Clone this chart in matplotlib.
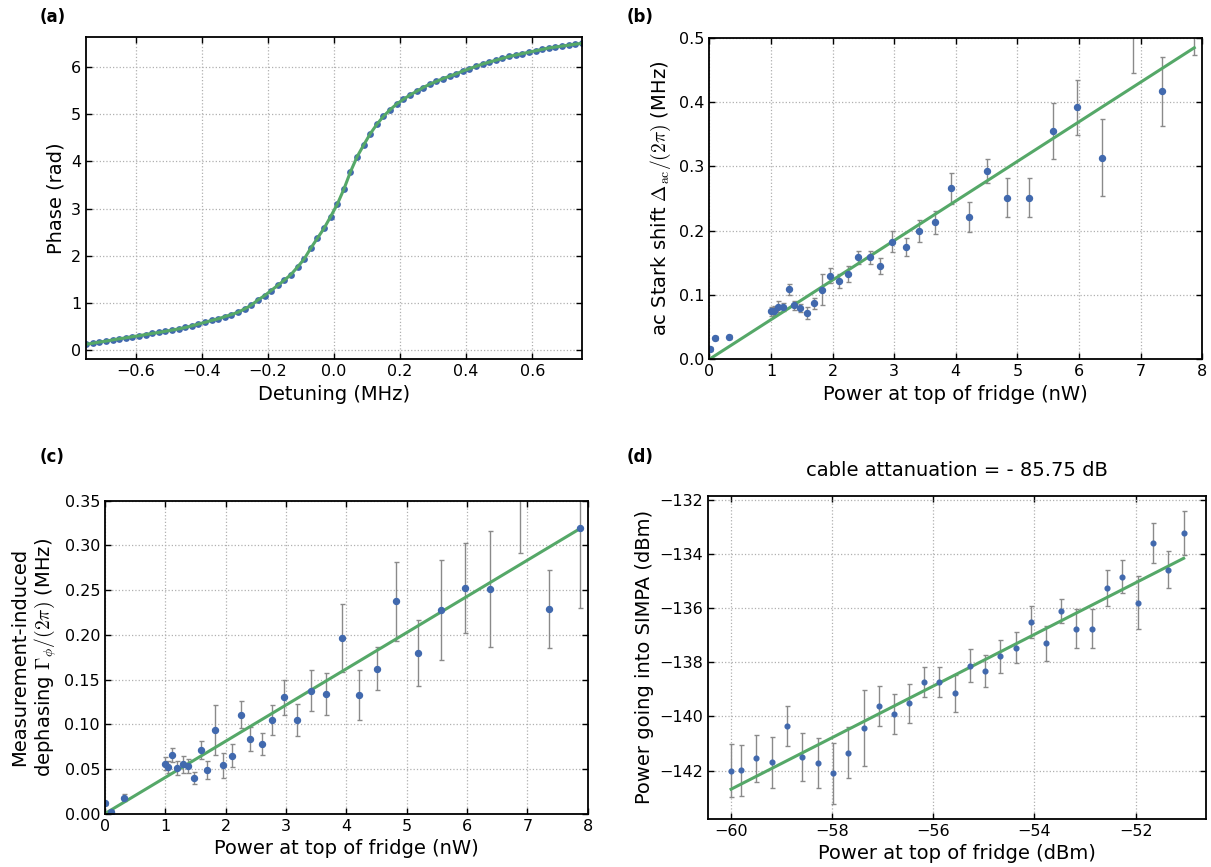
import numpy as np
import matplotlib
matplotlib.use("Agg")
import matplotlib.pyplot as plt

plt.rcParams.update({
    'font.family': 'DejaVu Sans',
    'mathtext.fontset': 'cm',
    'xtick.direction': 'in',
    'ytick.direction': 'in',
    'xtick.top': True,
    'ytick.right': True,
})

BLUE = '#4169AE'
GREEN = '#55A868'

# ---- (a) phase response ----
detuning = [-0.75, -0.73, -0.71, -0.69, -0.67, -0.65, -0.63, -0.61, -0.59, -0.57,
            -0.55, -0.53, -0.51, -0.49, -0.47, -0.45, -0.43, -0.41, -0.39, -0.37,
            -0.35, -0.33, -0.31, -0.29, -0.27, -0.25, -0.23, -0.21, -0.19, -0.17,
            -0.15, -0.13, -0.11, -0.09, -0.07, -0.05, -0.03, -0.01, 0.01, 0.03,
            0.05, 0.07, 0.09, 0.11, 0.13, 0.15, 0.17, 0.19, 0.21, 0.23,
            0.25, 0.27, 0.29, 0.31, 0.33, 0.35, 0.37, 0.39, 0.41, 0.43,
            0.45, 0.47, 0.49, 0.51, 0.53, 0.55, 0.57, 0.59, 0.61, 0.63,
            0.65, 0.67, 0.69, 0.71, 0.73, 0.75]
phase = [0.12, 0.14, 0.165, 0.185, 0.21, 0.235, 0.255, 0.28, 0.30, 0.325,
         0.35, 0.37, 0.395, 0.42, 0.445, 0.475, 0.51, 0.55, 0.585, 0.625,
         0.66, 0.705, 0.75, 0.80, 0.87, 0.95, 1.06, 1.15, 1.26, 1.37,
         1.48, 1.60, 1.76, 1.93, 2.16, 2.37, 2.58, 2.83, 3.09, 3.41,
         3.78, 4.10, 4.35, 4.59, 4.79, 4.96, 5.10, 5.22, 5.32, 5.41,
         5.49, 5.57, 5.64, 5.70, 5.76, 5.81, 5.86, 5.92, 5.97, 6.02,
         6.07, 6.11, 6.15, 6.19, 6.23, 6.26, 6.29, 6.32, 6.35, 6.38,
         6.41, 6.43, 6.45, 6.47, 6.49, 6.51]

# ---- (b), (c) vs power in nW ----
power_nw = [0.01, 0.10, 0.32, 1.00, 1.05, 1.12, 1.20, 1.29, 1.38, 1.48,
            1.59, 1.70, 1.83, 1.96, 2.10, 2.25, 2.41, 2.60, 2.77, 2.97,
            3.19, 3.41, 3.66, 3.93, 4.21, 4.51, 4.83, 5.19, 5.57, 5.96,
            6.38, 6.87, 7.35, 7.87]
stark = [0.0156, 0.033, 0.035, 0.0745, 0.0755, 0.082, 0.081, 0.109, 0.084, 0.080,
         0.072, 0.087, 0.108, 0.130, 0.122, 0.133, 0.159, 0.159, 0.145, 0.183,
         0.175, 0.199, 0.2135, 0.266, 0.221, 0.293, 0.2515, 0.2515, 0.355, 0.392,
         0.314, 0.52, 0.417, 0.53]
stark_err = [0.003, 0.003, 0.003, 0.007, 0.007, 0.008, 0.006, 0.0086, 0.007, 0.006,
             0.009, 0.009, 0.024, 0.012, 0.0105, 0.0125, 0.010, 0.010, 0.013, 0.016,
             0.014, 0.017, 0.018, 0.024, 0.023, 0.019, 0.030, 0.030, 0.044, 0.043,
             0.060, 0.075, 0.054, 0.056]
stark_slope = 0.0616

dephasing = [0.0116, 0.002, 0.018, 0.056, 0.0525, 0.0656, 0.0514, 0.0555, 0.0533, 0.040,
             0.071, 0.049, 0.0935, 0.0544, 0.065, 0.1107, 0.0835, 0.078, 0.105, 0.130,
             0.1047, 0.1375, 0.1338, 0.196, 0.1323, 0.162, 0.2374, 0.1797, 0.2277, 0.252,
             0.2512, 0.37, 0.229, 0.320]
dephasing_err = [0.002, 0.002, 0.004, 0.0075, 0.0067, 0.0075, 0.008, 0.0095, 0.008, 0.007,
                 0.010, 0.010, 0.028, 0.014, 0.013, 0.015, 0.0134, 0.012, 0.0166, 0.020,
                 0.018, 0.023, 0.024, 0.038, 0.028, 0.024, 0.044, 0.037, 0.056, 0.0505,
                 0.0645, 0.079, 0.044, 0.09]
dephasing_slope = 0.0405

# ---- (d) dBm ----
power_dbm = [-60.0, -59.8, -59.5, -59.2, -58.89, -58.59, -58.29, -57.99, -57.69, -57.38,
             -57.08, -56.78, -56.48, -56.18, -55.88, -55.58, -55.27, -54.98, -54.68, -54.37,
             -54.07, -53.77, -53.47, -53.17, -52.86, -52.56, -52.26, -51.96, -51.65, -51.35,
             -51.05]
simpa = [-142.01, -141.99, -141.55, -141.70, -140.36, -141.51, -141.73, -142.11, -141.34, -140.44,
         -139.61, -139.90, -139.52, -138.73, -138.73, -139.15, -138.13, -138.32, -137.78, -137.47,
         -136.51, -137.30, -136.10, -136.76, -136.77, -135.27, -134.84, -135.80, -133.60, -134.58,
         -133.22]
simpa_err = [0.98, 0.95, 0.88, 0.95, 0.74, 0.88, 0.93, 1.13, 0.94, 1.41,
             0.74, 0.74, 0.73, 0.56, 0.54, 0.67, 0.61, 0.60, 0.60, 0.57,
             0.59, 0.65, 0.44, 0.71, 0.72, 0.66, 0.60, 0.99, 0.74, 0.68,
             0.82]
simpa_slope = 0.953
simpa_intercept = -85.51


def style(ax):
    ax.grid(True, linestyle=':', color='#b0b0b0', linewidth=0.9)
    ax.tick_params(labelsize=11.5, length=4.5, width=1)
    for s in ax.spines.values():
        s.set_linewidth(1.3)


def errpoints(ax, x, y, err, ms):
    _, caps, bars = ax.errorbar(x, y, yerr=err, fmt='o', color=BLUE, ms=ms,
                                ecolor='#8a8a8a', elinewidth=1, capsize=1.8, capthick=1)
    for c in caps:
        c.set_color('#333333')


fig = plt.figure(figsize=(12.11, 8.67), dpi=100)
ax_a = fig.add_axes([0.0711, 0.5856, 0.4093, 0.3721])
ax_b = fig.add_axes([0.5857, 0.5856, 0.4071, 0.3706])
ax_c = fig.add_axes([0.0866, 0.0615, 0.3988, 0.3610])
ax_d = fig.add_axes([0.5849, 0.0557, 0.4113, 0.3725])

##### (a) ##########
ax_a.plot(detuning, phase, 'o', color=BLUE, ms=4.9, mew=0)
ax_a.plot(detuning, phase, '-', color=GREEN, lw=2.2)
ax_a.set_xlim(-0.75, 0.75)
ax_a.set_ylim(-0.2, 6.65)
ax_a.set_xticks([-0.6, -0.4, -0.2, 0.0, 0.2, 0.4, 0.6])
ax_a.set_xlabel('Detuning (MHz)', fontsize=14)
ax_a.set_ylabel('Phase (rad)', fontsize=14)
style(ax_a)

##### (b) ##########
errpoints(ax_b, power_nw, stark, stark_err, 4.3)
xfit = np.array([0, max(power_nw)])
ax_b.plot(xfit, stark_slope * xfit, color=GREEN, lw=2.2)
ax_b.set_xlim(0, 8)
ax_b.set_ylim(0, 0.5)
ax_b.set_xlabel('Power at top of fridge (nW)', fontsize=14)
ax_b.set_ylabel(r'ac Stark shift $\Delta_{\rm ac}/(2\pi)$ (MHz)', fontsize=14)
style(ax_b)

##### (c) ##########
errpoints(ax_c, power_nw, dephasing, dephasing_err, 4.3)
ax_c.plot(xfit, dephasing_slope * xfit, color=GREEN, lw=2.2)
ax_c.set_xlim(0, 8)
ax_c.set_ylim(0, 0.35)
ax_c.set_xlabel('Power at top of fridge (nW)', fontsize=14)
ax_c.set_ylabel('Measurement-induced\n' + r'dephasing $\Gamma_\phi/(2\pi)$ (MHz)', fontsize=14)
style(ax_c)

##### (d) ##########
errpoints(ax_d, power_dbm, simpa, simpa_err, 3.4)
xd = np.array([min(power_dbm), max(power_dbm)])
ax_d.plot(xd, simpa_slope * xd + simpa_intercept, color=GREEN, lw=2.2)
ax_d.set_xlim(-60.45, -50.6)
ax_d.set_ylim(-143.78, -131.85)
ax_d.set_xticks([-60, -58, -56, -54, -52])
ax_d.set_yticks([-132, -134, -136, -138, -140, -142])
ax_d.set_xlabel('Power at top of fridge (dBm)', fontsize=14)
ax_d.set_ylabel('Power going into SIMPA (dBm)', fontsize=14)
ax_d.set_title('cable attanuation = - 85.75 dB', fontsize=14, pad=14)
style(ax_d)

##### panel letters ##########
for lbl, (px, py) in zip(['(a)', '(b)', '(c)', '(d)'],
                         [(40, 17), (627, 17), (40, 457), (627, 457)]):
    fig.text(px / 1211, 1 - py / 867, lbl, fontsize=12, fontweight='bold',
             ha='left', va='center')

fig.savefig('out.png', dpi=100)
